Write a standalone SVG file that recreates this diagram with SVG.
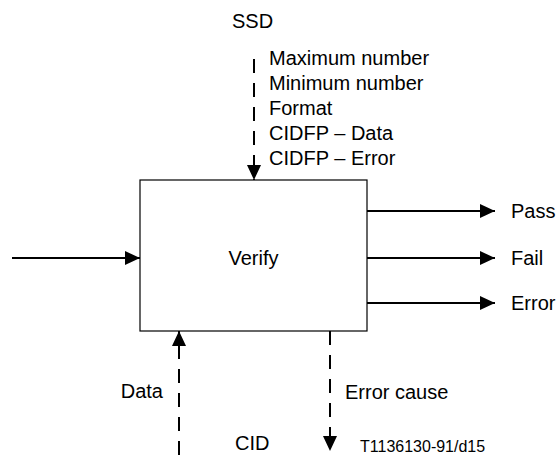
<svg xmlns="http://www.w3.org/2000/svg" width="557" height="455" viewBox="0 0 557 455">
<style>
text{font-family:"Liberation Sans",Arial,sans-serif;font-size:20px;fill:#000}
.small{font-size:16px}
.ln{stroke:#000;stroke-width:2;fill:none}
.dash{stroke-dasharray:14 10}
.box{fill:#fff;stroke:#000;stroke-width:1.2}
</style>
<defs>
<marker id="ah" markerWidth="15" markerHeight="14" refX="15" refY="7" orient="auto" markerUnits="userSpaceOnUse">
<path d="M0,0 L15,7 L0,14 Z" fill="#000"/>
</marker>
</defs>
<g id="verify">
<rect class="box" x="140" y="180" width="227" height="151"/>
<text x="253.5" y="265" text-anchor="middle">Verify</text>
</g>
<g id="connectors">
<line class="ln" x1="12" y1="258" x2="140" y2="258" marker-end="url(#ah)"/>
<line class="ln" x1="367" y1="211" x2="495" y2="211" marker-end="url(#ah)"/>
<line class="ln" x1="367" y1="258" x2="495" y2="258" marker-end="url(#ah)"/>
<line class="ln" x1="367" y1="303" x2="495" y2="303" marker-end="url(#ah)"/>
<line class="ln dash" x1="254" y1="59" x2="254" y2="180" marker-end="url(#ah)"/>
<line class="ln dash" x1="179" y1="455" x2="179" y2="331" marker-end="url(#ah)"/>
<line class="ln dash" x1="330" y1="331" x2="330" y2="451" marker-end="url(#ah)"/>
</g>
<g id="labels">
<text x="232" y="28">SSD</text>
<text x="269" y="65">Maximum number</text>
<text x="269" y="90">Minimum number</text>
<text x="269" y="115">Format</text>
<text x="269" y="140">CIDFP – Data</text>
<text x="269" y="165">CIDFP – Error</text>
<text x="511" y="218">Pass</text>
<text x="511" y="265">Fail</text>
<text x="511" y="310">Error</text>
<text x="163" y="398" text-anchor="end">Data</text>
<text x="345" y="399">Error cause</text>
<text x="235" y="450">CID</text>
<text class="small" x="360" y="452">T1136130-91/d15</text>
</g>
</svg>
